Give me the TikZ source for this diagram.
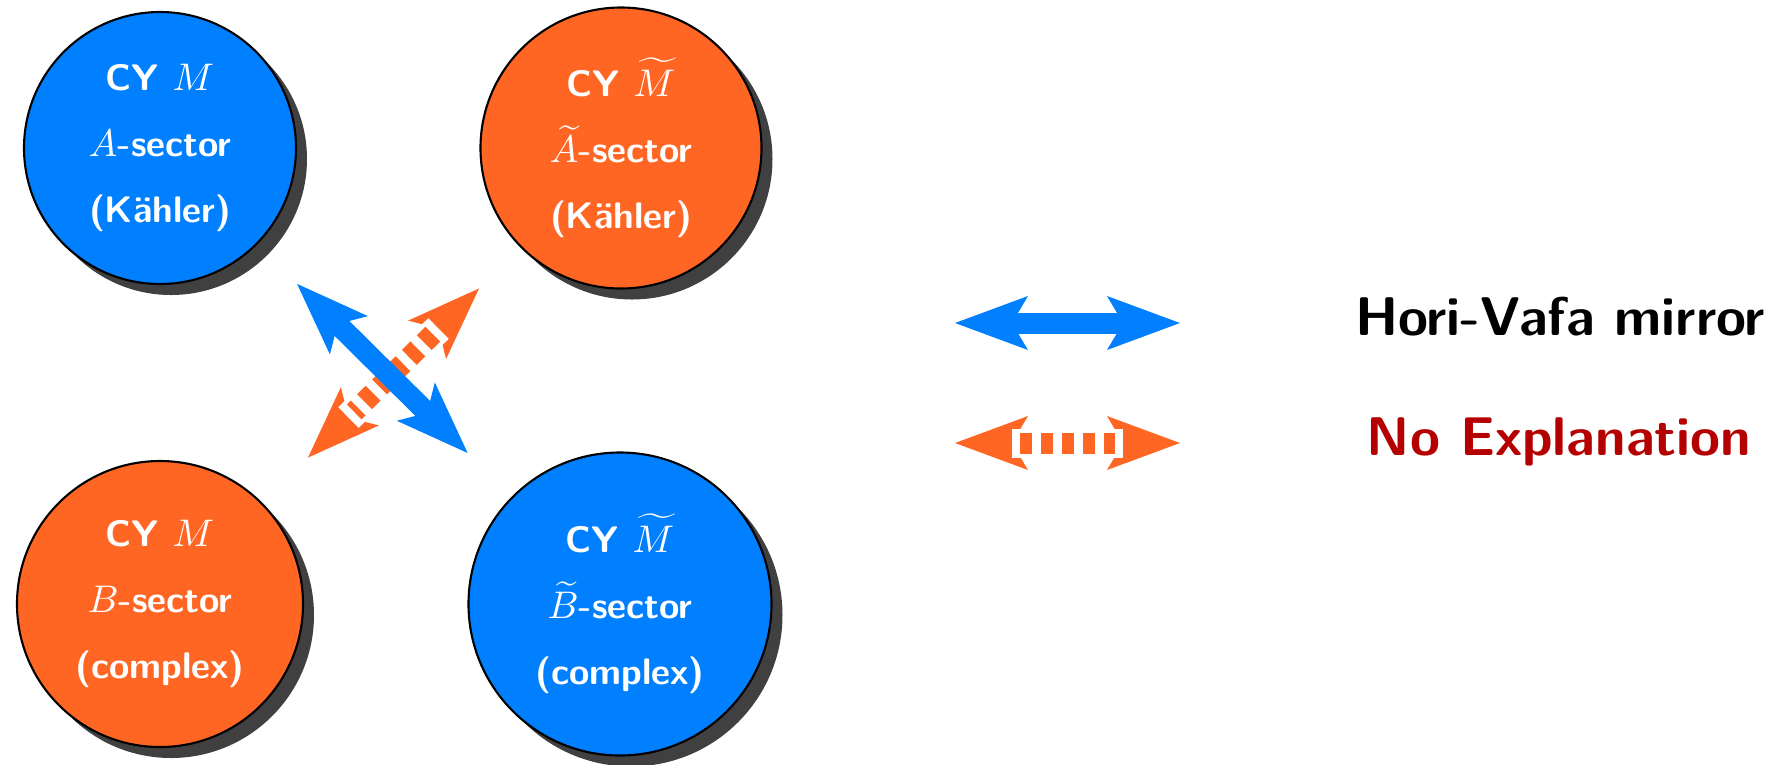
\documentclass[tikz,border=0pt]{standalone}
\usepackage{amsmath,amssymb}
\usepackage{tikz}
\usetikzlibrary{arrows.meta,calc,shadows}
\definecolor{MirrorBlue}{HTML}{0080FF}
\definecolor{SectorOrange}{HTML}{FF6624}
\definecolor{NoteRed}{HTML}{B40000}
\definecolor{ShadowGray}{HTML}{404040}
\tikzset{hvtip/.tip={Stealth[length=7.3mm,width=5.4mm,inset=1.6mm,line width=0pt]}}
% orange double arrow with a dashed shaft on a white band
\newcommand{\noexpl}[2]{%
  \draw[SectorOrange,line width=2.1mm,hvtip-hvtip] (#1) -- (#2);
  \draw[white,line width=2.9mm,shorten <=5.7mm,shorten >=5.7mm] (#1) -- (#2);
  \draw[SectorOrange,line width=2.1mm,dash pattern=on 1.2mm off .9mm,shorten <=6.5mm,shorten >=6.5mm] (#1) -- (#2);}

\begin{document}
\begin{tikzpicture}[
 cy/.style={circle,draw=black,line width=.6pt,inner sep=0pt,text=white,align=center,
  font={\fontsize{10.5}{18.8}\selectfont\sffamily\bfseries},
  drop shadow={shadow xshift=1.1mm,shadow yshift=-1.1mm,fill=ShadowGray,opacity=1}},
 mirror/.style={MirrorBlue,line width=2.1mm,hvtip-hvtip},
 legend/.style={anchor=base,font={\fontsize{15.5}{18}\selectfont\sffamily\bfseries}}]
\useasboundingbox (0,0) rectangle (17.8,-7.64);
\node[cy,fill=MirrorBlue,minimum size=2.72cm] (c1) at (1.60,-1.48) {CY $M$\\ $A$-sector\\ (Kähler)};
\node[cy,fill=SectorOrange,minimum size=2.81cm] (c2) at (6.21,-1.48) {CY $\widetilde{M}$\\ $\widetilde{A}$-sector\\ (Kähler)};
\node[cy,fill=SectorOrange,minimum size=2.86cm] (c3) at (1.60,-6.04) {CY $M$\\ $B$-sector\\ (complex)};
\node[cy,fill=MirrorBlue,minimum size=3.03cm] (c4) at (6.20,-6.04) {CY $\widetilde{M}$\\ $\widetilde{B}$-sector\\ (complex)};
% crossing arrows
\coordinate (xNE) at ($(c2)!0.308!(c3)$);
\coordinate (xSW) at ($(c2)!0.679!(c3)$);
\noexpl{xNE}{xSW}
\draw[mirror,shorten <=5.6mm,shorten >=6.2mm] (c1) -- (c4);
% legend
\coordinate (hvL) at (9.55,-3.23);
\coordinate (hvR) at (11.80,-3.23);
\coordinate (neL) at (9.55,-4.43);
\coordinate (neR) at (11.80,-4.43);
\draw[mirror] (hvL) -- (hvR);
\noexpl{neL}{neR}
\node[legend] (hv) at (15.60,-3.35) {Hori-Vafa mirror};
\node[legend,text=NoteRed] (ne) at (15.59,-4.55) {No Explanation};
\end{tikzpicture}
\end{document}
